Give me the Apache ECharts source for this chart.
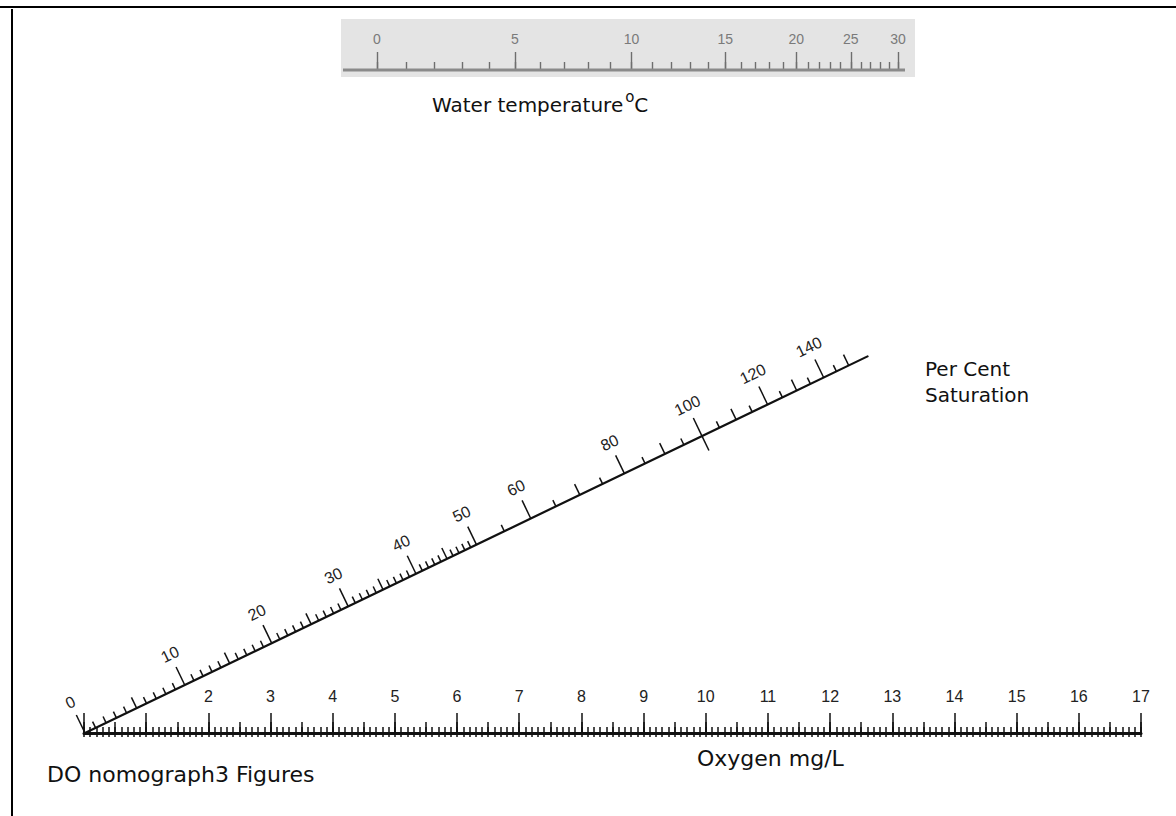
<!DOCTYPE html>
<html>
<head>
<meta charset="utf-8">
<script src="https://cdn.jsdelivr.net/npm/echarts@6/dist/echarts.min.js"></script>
<style>html,body{margin:0;padding:0;background:#fff}#c{width:1176px;height:816px}</style>
</head>
<body>
<div id="c"></div>
<script>
// ---------- DATA ----------
// Oxygen scale, mg/L
const oxygenMin = 0;
const oxygenMax = 17;
const oxygenFirstLabel = 2;

// Water temperature ticks (°C) and the oxygen value (mg/L at saturation) each tick marks
const tempTicks = [0,1,2,3,4,5,6,7,8,9,10,11,12,13,14,15,16,17,18,19,20,21,22,23,24,25,26,27,28,29,30];
const tempSatMgL = [14.62,14.22,13.84,13.47,13.10,12.75,12.41,12.08,11.76,11.46,11.17,10.89,10.63,10.38,10.13,9.90,9.69,9.49,9.30,9.12,8.94,8.78,8.63,8.48,8.34,8.20,8.06,7.93,7.80,7.68,7.56];
const tempLabels = [0,5,10,15,20,25,30];

// Per cent saturation ticks
const satLabels = [0,10,20,30,40,50,60,80,100,120,140];
const satMedium = [5,15,25,35,45,70,90,110,130,150];
const satMinor = [1,2,3,4,6,7,8,9,11,12,13,14,16,17,18,19,21,22,23,24,26,27,28,29,31,32,33,34,36,37,38,39,41,42,43,44,46,47,48,49,55,65,75,85,95,105,115,125,135,145];
const satCross = [100];
const satEnd = 158;
const satK = 136; // hyperbolic graduation constant of the diagonal scale

// ---------- SCALES / LAYOUT ----------
const satScale = p => p / (p + satK);
const satInverse = f => satK * f / (1 - f);
const satAngle = 25.7;
const satOrigin = [85, 733];
const satUnitPx = 1616;
const satFEnd = satScale(satEnd);
const satRadius = satUnitPx * satFEnd;
const rad = satAngle * Math.PI / 180;
const satEndPt = [satOrigin[0] + satRadius * Math.cos(rad), satOrigin[1] - satRadius * Math.sin(rad)];

const tempMajorSat = tempLabels.map(t => tempSatMgL[tempTicks.indexOf(t)]);
function tempFromSat(v) {
  let best = 0, bd = Infinity;
  tempSatMgL.forEach((s, i) => { const d = Math.abs(s - v); if (d < bd) { bd = d; best = i; } });
  return String(tempTicks[best]);
}

const numFont = 'Liberation Sans';
const txtFont = 'DejaVu Sans';
const blackTick = { color: '#111', width: 1.5 };

function oxyAxis(extra) {
  return Object.assign({
    gridIndex: 0, type: 'value', position: 'bottom', min: oxygenMin, max: oxygenMax,
    axisLine: { show: false, onZero: false },
    axisLabel: { show: false },
    splitLine: { show: false }
  }, extra);
}
function tempAxis(extra) {
  return Object.assign({
    gridIndex: 1, type: 'value', position: 'bottom', inverse: true,
    min: tempSatMgL[tempSatMgL.length - 1], max: tempSatMgL[0],
    axisLine: { show: false, onZero: false },
    axisLabel: { show: false },
    splitLine: { show: false }
  }, extra);
}
function satRadiusAxis(idx, extra) {
  return Object.assign({
    polarIndex: idx, type: 'value', min: 0, max: satFEnd,
    axisLine: { show: false },
    axisLabel: { show: false },
    splitLine: { show: false },
    splitArea: { show: false }
  }, extra);
}
function satAngleAxis(idx, start) {
  return { polarIndex: idx, startAngle: start, min: 0, max: 360, show: false,
    axisLine: { show: false }, splitLine: { show: false }, axisTick: { show: false }, axisLabel: { show: false } };
}

const option = {
  backgroundColor: '#ffffff',
  animation: false,
  title: [
    { text: '{a|Water temperature}{s|o}{a|C}', left: 432, top: 89, padding: 0,
      textStyle: { fontWeight: 'normal', rich: {
        a: { fontSize: 20, fontWeight: 'normal', fontFamily: txtFont, color: '#111', lineHeight: 26, verticalAlign: 'bottom' },
        s: { fontSize: 15, fontWeight: 'normal', fontFamily: txtFont, color: '#111', lineHeight: 24, verticalAlign: 'top', padding: [0, 0, 0, 2] }
      } } },
    { text: 'Per Cent\nSaturation', left: 925, top: 356, padding: 0,
      textStyle: { fontSize: 20, lineHeight: 26, fontWeight: 'normal', fontFamily: txtFont, color: '#111' } },
    { text: 'Oxygen mg/L', left: 697, top: 747, padding: 0,
      textStyle: { fontSize: 22, fontWeight: 'normal', fontFamily: txtFont, color: '#111' } },
    { text: 'DO nomograph3 Figures', left: 47, top: 763, padding: 0,
      textStyle: { fontSize: 22, fontWeight: 'normal', fontFamily: txtFont, color: '#111' } }
  ],
  graphic: [
    { type: 'rect', z: -10, shape: { x: 341, y: 19, width: 574, height: 58 }, style: { fill: '#e4e4e4' } },
    { type: 'line', z: 5, shape: { x1: 343, y1: 70, x2: 905, y2: 70 }, style: { stroke: '#8a8a8a', lineWidth: 3 } },
    { type: 'line', z: 5, shape: { x1: 0, y1: 7, x2: 1176, y2: 7 }, style: { stroke: '#000', lineWidth: 2 } },
    { type: 'line', z: 5, shape: { x1: 12, y1: 9, x2: 12, y2: 816 }, style: { stroke: '#000', lineWidth: 2 } }
  ],
  grid: [
    { left: 84, top: 560, width: 1057, height: 173 },
    { left: 377, top: 20, width: 521, height: 50 }
  ],
  xAxis: [
    oxyAxis({ interval: 1,
      axisLine: { show: true, onZero: false, lineStyle: { color: '#111', width: 3 } },
      axisTick: { show: true, inside: true, length: 20, lineStyle: blackTick },
      axisLabel: { show: true, inside: true, margin: 29, color: '#222', fontSize: 16, fontFamily: numFont,
        formatter: v => (v >= oxygenFirstLabel ? String(v) : '') } }),
    oxyAxis({ interval: 0.5, axisTick: { show: true, inside: true, length: 11, lineStyle: blackTick } }),
    oxyAxis({ interval: 0.1, axisTick: { show: true, inside: true, length: 6, lineStyle: blackTick } }),
    oxyAxis({ interval: 0.1, axisTick: { show: true, inside: false, length: 4, lineStyle: blackTick } }),
    tempAxis({ axisTick: { show: true, inside: true, length: 8, customValues: tempSatMgL, lineStyle: { color: '#6e6e6e', width: 1.4 } } }),
    tempAxis({ axisTick: { show: true, inside: true, length: 18, customValues: tempMajorSat, lineStyle: { color: '#6e6e6e', width: 1.4 } },
      axisLabel: { show: true, inside: true, customValues: tempMajorSat, margin: 24, color: '#7a7a7a', fontSize: 14, fontFamily: numFont,
        formatter: v => tempFromSat(v) } })
  ],
  yAxis: [
    { gridIndex: 0, type: 'value', show: false, min: 0, max: 1 },
    { gridIndex: 1, type: 'value', show: false, min: 0, max: 1 }
  ],
  polar: [
    { center: satOrigin, radius: satRadius },
    { center: satOrigin, radius: satRadius },
    { center: satOrigin, radius: satRadius },
    { center: satEndPt, radius: satRadius }
  ],
  angleAxis: [
    satAngleAxis(0, satAngle), satAngleAxis(1, satAngle), satAngleAxis(2, satAngle), satAngleAxis(3, satAngle + 180)
  ],
  radiusAxis: [
    satRadiusAxis(0, {
      axisLine: { show: true, lineStyle: { color: '#111', width: 2.2 } },
      axisTick: { show: true, length: 20, customValues: satLabels.map(satScale), lineStyle: blackTick },
      axisLabel: { show: true, customValues: satLabels.map(satScale), rotate: satAngle, margin: 26,
        color: '#222', fontSize: 16, fontFamily: numFont, formatter: v => String(Math.round(satInverse(v))) }
    }),
    satRadiusAxis(1, { axisTick: { show: true, length: 12, customValues: satMedium.map(satScale), lineStyle: blackTick } }),
    satRadiusAxis(2, { axisTick: { show: true, length: 7, customValues: satMinor.map(satScale), lineStyle: blackTick } }),
    satRadiusAxis(3, { inverse: true, axisTick: { show: true, length: 16, customValues: satCross.map(satScale), lineStyle: blackTick } })
  ],
  series: []
};

const chart = echarts.init(document.getElementById('c'), null, { renderer: 'svg', width: 1176, height: 816 });
chart.setOption(option);
</script>
</body>
</html>
